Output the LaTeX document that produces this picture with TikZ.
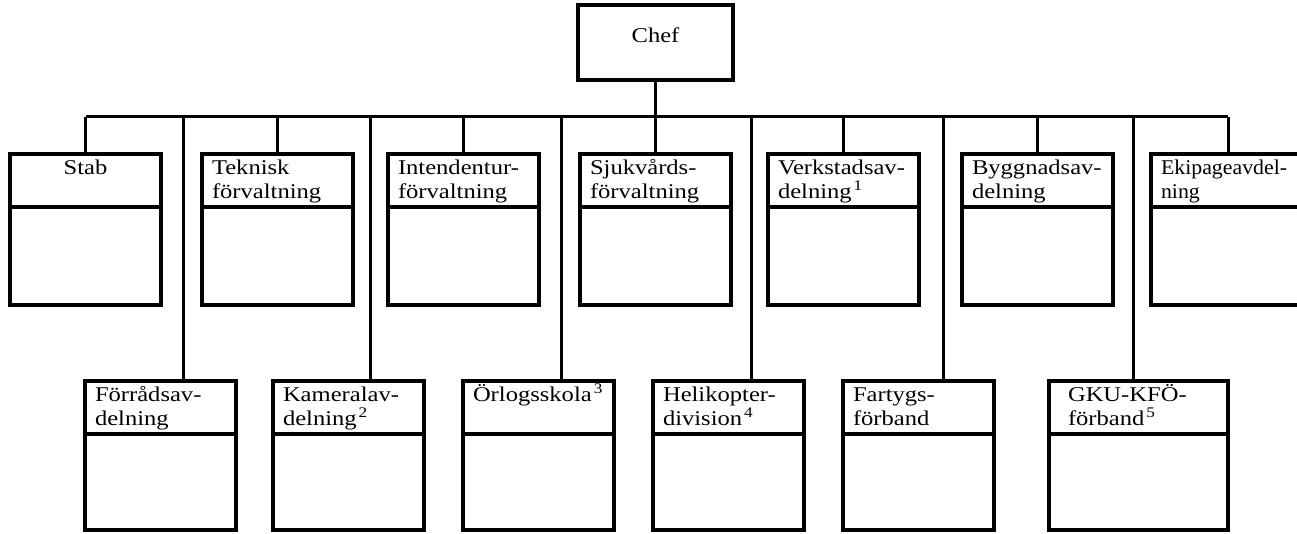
\documentclass[tikz,border=0pt]{standalone}
\usepackage{fontspec}
\setmainfont{Liberation Serif}[FakeStretch=1.17]
\newfontfamily\narrowfont{Liberation Serif}[FakeStretch=1.04]
\usetikzlibrary{positioning}

\tikzset{
    head/.style={draw, line width=3.2pt, anchor=north west, outer sep=0pt,
        text width=131pt, inner xsep=10pt, inner ysep=4.75pt,
        text height=15.5pt, text depth=28pt, minimum height=53pt, align=flush left,
        font=\fontsize{21}{24}\selectfont},
    body/.style={draw, line width=3.2pt, outer sep=0pt,
        minimum width=151pt, minimum height=98pt},
    link/.style={line width=3pt}
}

\begin{document}
\begin{tikzpicture}[x=1pt, y=-1pt]
        \useasboundingbox (0,0) rectangle (1297,534);
        \clip (0,0) rectangle (1297,534);
        % chef
        \node [draw, line width=3.2pt, minimum width=155pt, minimum height=75pt,
            text height=14pt, text depth=13pt, font=\fontsize{21}{24}\selectfont]
            (chef) at (655.5,42.5) {Chef};
        \coordinate (bus) at (0,117);
        % upper row
        \node [head, align=center] (stab) at (10,154) {Stab\\\mbox{}};
        \node [head] (tekn) at (202,154) {Teknisk\\förvaltning};
        \node [head] (intend) at (388,154) {Intendentur-\\förvaltning};
        \node [head] (sjukv) at (580,154) {Sjukvårds-\\förvaltning};
        \node [head] (verk) at (768,154) {Verkstadsav-\\delning\kern2pt\textsuperscript{1}};
        \node [head] (bygg) at (962,154) {Byggnadsav-\\delning};
        \node [head, text width=150pt, font=\narrowfont\fontsize{21}{24}\selectfont] (ekip) at (1151,154) {Ekipageavdel-\\ning};
        \node [body, below=0pt of stab] (stabB) {};
        \node [body, below=0pt of tekn] (teknB) {};
        \node [body, below=0pt of intend] (intendB) {};
        \node [body, below=0pt of sjukv] (sjukvB) {};
        \node [body, below=0pt of verk] (verkB) {};
        \node [body, below=0pt of bygg] (byggB) {};
        \node [body, minimum width=170pt, below=0pt of ekip] (ekipB) {};
        % lower row
        \node [head] (forrad) at (85,381) {Förrådsav-\\delning};
        \node [head] (kamer) at (273,381) {Kameralav-\\delning\kern2pt\textsuperscript{2}};
        \node [head] (orlog) at (463,381) {Örlogsskola\kern2pt\textsuperscript{3}\\\mbox{}};
        \node [head] (heli) at (653,381) {Helikopter-\\division\kern2pt\textsuperscript{4}};
        \node [head] (fartyg) at (843,381) {Fartygs-\\förband};
        \node [head, text width=141pt, inner xsep=19pt] (gku) at (1049,381) {GKU-KFÖ-\\förband\kern2pt\textsuperscript{5}};
        \node [body, minimum height=96pt, below=0pt of forrad] (forradB) {};
        \node [body, minimum height=96pt, below=0pt of kamer] (kamerB) {};
        \node [body, minimum height=96pt, below=0pt of orlog] (orlogB) {};
        \node [body, minimum height=96pt, below=0pt of heli] (heliB) {};
        \node [body, minimum height=96pt, below=0pt of fartyg] (fartygB) {};
        \node [body, minimum width=179pt, minimum height=96pt, below=0pt of gku] (gkuB) {};
        % drop points
        \coordinate (ekipD) at ([xshift=77pt]ekip.north west);
        \coordinate (forradD) at ([xshift=98pt]forrad.north west);
        \coordinate (kamerD) at ([xshift=97pt]kamer.north west);
        \coordinate (orlogD) at ([xshift=98pt]orlog.north west);
        \coordinate (heliD) at ([xshift=98pt]heli.north west);
        \coordinate (fartygD) at ([xshift=100pt]fartyg.north west);
        \coordinate (gkuD) at ([xshift=84pt]gku.north west);
        % lines
        \draw [link] (chef.south) -- (chef.south |- bus);
        \draw [link] (stab.north |- bus) -- (ekipD |- bus);
        \draw [link] (stab.north) -- (stab.north |- bus);
        \draw [link] (tekn.north) -- (tekn.north |- bus);
        \draw [link] (intend.north) -- (intend.north |- bus);
        \draw [link] (sjukv.north) -- (sjukv.north |- bus);
        \draw [link] (verk.north) -- (verk.north |- bus);
        \draw [link] (bygg.north) -- (bygg.north |- bus);
        \draw [link] (ekipD) -- (ekipD |- bus);
        \draw [link] (forradD) -- (forradD |- bus);
        \draw [link] (kamerD) -- (kamerD |- bus);
        \draw [link] (orlogD) -- (orlogD |- bus);
        \draw [link] (heliD) -- (heliD |- bus);
        \draw [link] (fartygD) -- (fartygD |- bus);
        \draw [link] (gkuD) -- (gkuD |- bus);
\end{tikzpicture}
\end{document}
